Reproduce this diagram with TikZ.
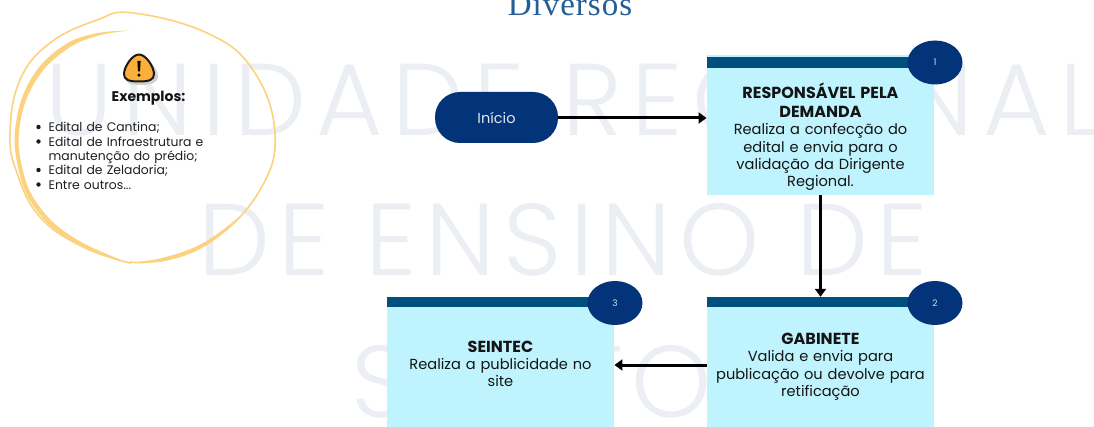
\documentclass[tikz,border=0pt]{standalone}
\usepackage{fontspec}
\setmainfont{Poppins}
\newfontfamily\titlefont[LetterSpace=3]{Liberation Serif}
\newfontfamily\wmfont[UprightFont=* Light,LetterSpace=8]{Poppins}
\newfontfamily\wmwide[UprightFont=* Light,LetterSpace=9.2]{Poppins}
\usetikzlibrary{arrows.meta,calc,shapes.geometric}
\definecolor{wm}{HTML}{EBEFF4}
\definecolor{boxfill}{HTML}{BFF4FE}
\definecolor{headbar}{HTML}{00507F}
\definecolor{navy}{HTML}{03347A}
\definecolor{ring}{HTML}{FCD27F}
\definecolor{warn}{HTML}{FBB03B}
\definecolor{ttl}{HTML}{245E95}
\newcommand{\hd}[1]{{\bfseries\fontsize{16}{18.6}\selectfont #1\par}}
\tikzset{
  wmark/.style={text=wm,font=\wmfont\fontsize{102}{102}\selectfont,inner sep=0,anchor=base},
  card/.style={fill=boxfill,draw=none,minimum width=227.5pt,inner sep=0},
  bar/.style={fill=headbar,draw=none},
  badge/.style={ellipse,fill=navy,draw=none,minimum width=55pt,minimum height=44pt,inner sep=0,text=white!85!navy,font=\fontsize{9}{9}\selectfont},
  cardtext/.style={align=center,inner sep=0,text width=222pt,font=\fontsize{14.6}{17.3}\selectfont,text=black!92},
  flow/.style={line width=3pt,-{Triangle[length=8pt,width=11pt]},black},
  ringline/.style={ring,line cap=round,line join=round}
}
\begin{document}
\begin{tikzpicture}[x=1pt,y=-1pt]
\useasboundingbox (0,0) rectangle (1094,427);
\clip (0,0) rectangle (1094,427);
\fill[white] (0,0) rectangle (1094,427);
% watermark
\node[wmark,font=\wmwide\fontsize{102}{102}\selectfont] (wm1) at (574,135.5) {UNIDADE REGIONAL};
\node[wmark] (wm2) at (563,275.5) {DE ENSINO DE};
\node[wmark] (wm3) at (565,417) {SANTOS};
% title
\node[inner sep=0,anchor=base,text=ttl,font=\titlefont\fontsize{33}{33}\selectfont] (title) at (570,15.5) {Diversos};
% hand drawn ring
\draw[ringline,line width=1.6pt] plot[smooth,tension=.7] coordinates {(130,263) (83,247) (40,217) (17,173) (10,133) (20,80) (50,43) (97,20) (133,13) (207,33) (253,70) (275,133) (260,190) (213,240) (160,260) (130,262)};
\fill[ring] plot[smooth,tension=.7] coordinates {(131,30.5) (93,34) (60,48) (31,79) (16,123) (18,167) (35,208) (72,241) (133,264.5)}
  -- plot[smooth,tension=.7] coordinates {(133,264.5) (75,238.5) (39,206) (22,167) (20,124) (35,82) (63,52) (95,36.5) (131,30.5)} -- cycle;
\fill[ring] plot[smooth,tension=.7] coordinates {(130,262.5) (165,261) (205,246) (240,216)}
  -- plot[smooth,tension=.7] coordinates {(240,216) (204,242.5) (164,257.5) (130,262.5)} -- cycle;
% warning icon
\fill[black!18] (140,56) .. controls (148,56) and (158,70) .. (158,76) .. controls (158,83) and (151,85) .. (140,85) .. controls (129,85) and (125,83) .. (125,76) .. controls (125,70) and (132,56) .. (140,56) -- cycle;
\filldraw[fill=warn,draw=black!90,line width=2pt,line join=round] (139,54.5) .. controls (146,54.5) and (154,67) .. (154,74) .. controls (154,80) and (149,81.5) .. (139,81.5) .. controls (129,81.5) and (124,80) .. (124,74) .. controls (124,67) and (132,54.5) .. (139,54.5) -- cycle;
\fill[black] (137.4,61) -- (140.6,61) -- (140,71.5) -- (138,71.5) -- cycle;
\fill[black] (139,75.2) circle (1.7);
% left text
\node[inner sep=0,font=\bfseries\fontsize{14}{16}\selectfont,text=black!92] (ex) at (148.5,98) {Exemplos:};
\node[inner sep=0,anchor=north west,text width=180pt,font=\fontsize{12.4}{14.4}\selectfont,text=black!88] (list) at (48.5,122) {Edital de Cantina;\\Edital de Infraestrutura e\\manutenção do prédio;\\Edital de Zeladoria;\\Entre outros...};
\foreach \yy [count=\i] in {127,141.5,170,184.5} \fill[black!90] (38.5,\yy) circle (2.2) coordinate (bul\i);
% start
\node[fill=navy,rounded corners=25pt,minimum width=123pt,minimum height=51pt,inner sep=0,text=white!88!navy,font=\fontsize{14.5}{17}\selectfont] (start) at (496.5,117.5) {Início};
% cards
\node[card,minimum height=140pt] (box1) at (820.5,125) {};
\node[card,minimum height=136pt] (box2) at (820.5,365) {};
\node[card,minimum height=136pt] (box3) at (500.5,365) {};
\fill[bar] (707,57) rectangle (934,68);
\fill[bar] (707,297) rectangle (934,307.5);
\fill[bar] (387,297) rectangle (614,307.5);
\node[badge] (b1) at (935,62.5) {1};
\node[badge] (b2) at (935,303) {2};
\node[badge] (b3) at (615,303) {3};
\node[cardtext,anchor=north] (t1) at (820.5,83) {\hd{RESPONSÁVEL PELA\\DEMANDA}Realiza a confecção do\\edital e envia para o\\validação da Dirigente\\Regional.};
\node[cardtext,anchor=north] (t2) at (820.5,333) {\hd{GABINETE}Valida e envia para\\publicação ou devolve para\\retificação};
\node[cardtext,anchor=north] (t3) at (500.5,340.5) {\hd{SEINTEC}Realiza a publicidade no\\site};
% connectors
\draw[flow] ($(start.east)+(0,0.5)$) -- ($(start.east -| box1.west)+(0,0.5)$);
\draw[flow] (box1.south) -- (box2.north);
\draw[flow] (box2.west) -- (box3.east);
\end{tikzpicture}
\end{document}
